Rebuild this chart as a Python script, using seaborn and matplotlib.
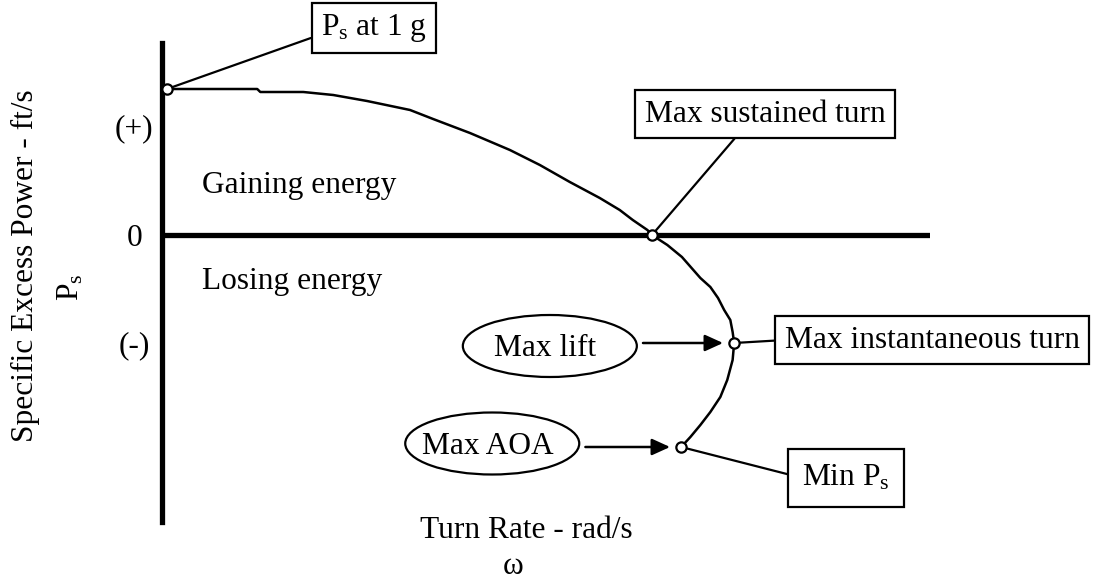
import numpy as np
import matplotlib
matplotlib.use("Agg")
import matplotlib.pyplot as plt
from matplotlib.patches import Ellipse
import seaborn as sns

# Ps vs turn-rate curve (arbitrary units: turn rate 0..1, Ps zero at 0)
turn_rate = [0.0065, 0.124, 0.128, 0.184, 0.223, 0.267, 0.323, 0.353, 0.401, 0.453,
             0.492, 0.531, 0.570, 0.596, 0.613, 0.632, 0.638, 0.658, 0.677, 0.701,
             0.714, 0.724, 0.732, 0.740, 0.743, 0.745, 0.743, 0.736, 0.727, 0.714,
             0.701, 0.688, 0.676]
ps = [1.46, 1.46, 1.43, 1.43, 1.40, 1.34, 1.25, 1.16, 1.02, 0.85,
      0.70, 0.53, 0.37, 0.25, 0.15, 0.05, 0.00, -0.10, -0.22, -0.43,
      -0.52, -0.63, -0.75, -0.85, -0.97, -1.08, -1.25, -1.45, -1.62, -1.77,
      -1.90, -2.02, -2.12]

# marked points: Ps at 1 g, max sustained, max instantaneous, min Ps
point_names = ["1g", "sustained", "instantaneous", "minps"]
point_x = [0.0065, 0.638, 0.745, 0.676]
point_y = [1.46, 0.00, -1.08, -2.12]

ytick_pos = [1.10, 0.0, -1.07]
ytick_labels = ["(+)", "0", "(-)"]

sns.set_style("white")
plt.rcParams['font.family'] = ['Liberation Serif', 'DejaVu Serif']
plt.rcParams['mathtext.fontset'] = 'custom'
plt.rcParams['mathtext.rm'] = 'Liberation Serif'
plt.rcParams['mathtext.it'] = 'Liberation Serif:italic'
plt.rcParams['text.color'] = 'black'
plt.rcParams['axes.labelcolor'] = 'black'
plt.rcParams['ytick.color'] = 'black'
FS = 22.6

fig = plt.figure(figsize=(10.94, 5.81), dpi=100)
ax = fig.add_axes([162 / 1094, 59 / 581, 768 / 1094, 479 / 581])
ax.set_xlim(0, 1)
ax.set_ylim(-2.87, 1.92)

for s in ["top", "right", "bottom"]:
    ax.spines[s].set_visible(False)
ax.spines["left"].set_linewidth(3.8)
ax.spines["left"].set_color("black")
ax.axhline(0, color="black", lw=3.8, zorder=2)

ax.set_xticks([])
ax.set_yticks(ytick_pos)
ax.set_yticklabels(ytick_labels, fontsize=FS, ha="center")
ax.tick_params(axis="y", length=0, pad=20)

sns.lineplot(x=turn_rate, y=ps, sort=False, estimator=None, color="black",
             lw=1.8, ax=ax, zorder=3)
sns.scatterplot(x=point_x, y=point_y, s=55, color="white", edgecolor="black",
                linewidth=1.6, ax=ax, zorder=5, clip_on=False)

ax.set_ylabel("Specific Excess Power - ft/s", fontsize=FS, va="center")
ax.yaxis.set_label_coords(-0.178, 0.535)
ax.text(-0.119, -0.52, "P$_\\mathrm{s}$", fontsize=FS, rotation=90,
        ha="center", va="center")
ax.text(0.475, -2.96, "Turn Rate - rad/s", fontsize=FS, ha="center", va="center",
        clip_on=False)
ax.text(0.457, -3.32, "ω", fontsize=FS, ha="center", va="center", clip_on=False)

ax.text(0.052, 0.50, "Gaining energy", fontsize=FS, va="center")
ax.text(0.052, -0.47, "Losing energy", fontsize=FS, va="center")

box = dict(boxstyle="square,pad=0.3", fc="white", ec="black", lw=1.6)
lead = dict(arrowstyle="-", color="black", lw=1.6, shrinkA=0, shrinkB=0)

ax.annotate("P$_\\mathrm{s}$ at 1 g", xy=(point_x[0], point_y[0]), xytext=(0.276, 2.07),
            fontsize=FS, ha="center", va="center", bbox=box,
            arrowprops={**lead, "relpos": (0, 0.3)}, annotation_clip=False)
ax.annotate("Max sustained turn", xy=(point_x[1], point_y[1]), xytext=(0.785, 1.21),
            fontsize=FS, ha="center", va="center", bbox=box,
            arrowprops={**lead, "relpos": (0.41, 0)}, annotation_clip=False)
ax.annotate("Max instantaneous turn", xy=(point_x[2], point_y[2]), xytext=(1.003, -1.05),
            fontsize=FS, ha="center", va="center", bbox=box,
            arrowprops={**lead, "relpos": (0, 0.5)}, annotation_clip=False)
ax.annotate("Min P$_\\mathrm{s}$", xy=(point_x[3], point_y[3]), xytext=(0.891, -2.43),
            fontsize=FS, ha="center", va="center",
            bbox=dict(boxstyle="square,pad=0.45", fc="white", ec="black", lw=1.6),
            arrowprops={**lead, "relpos": (0, 0.5)}, annotation_clip=False)

# ellipse callouts with arrows
ell_w, ell_h = 174 / 768, 0.62
for label, cx, cy, px, py in [("Max lift", 0.505, -1.11, point_x[2], point_y[2]),
                              ("Max AOA", 0.430, -2.085, point_x[3], point_y[3])]:
    ax.add_patch(Ellipse((cx, cy), ell_w, ell_h, fc="white", ec="black", lw=1.6,
                         zorder=4))
    ax.text(cx - 0.006, cy - 0.03, label, fontsize=FS, ha="center", va="center", zorder=6)
    ax.annotate("", xy=(px, py), xytext=(cx + ell_w / 2 + 0.008, py),
                arrowprops=dict(arrowstyle="-|>,head_length=0.55,head_width=0.25",
                                color="black", lw=1.8, shrinkA=0, shrinkB=8,
                                mutation_scale=20))

fig.savefig("out.png", dpi=100)
